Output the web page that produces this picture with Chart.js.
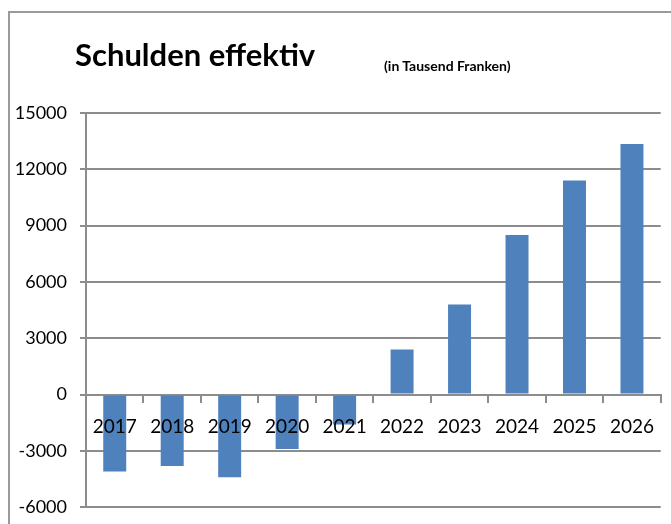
<!DOCTYPE html>
<html>
<head>
<meta charset="utf-8">
<script src="https://cdn.jsdelivr.net/npm/chart.js@4.4.0/dist/chart.umd.min.js"></script>
<style>
  html, body { margin: 0; padding: 0; background: #fff; overflow: hidden; }
  #wrap { position: relative; width: 671px; height: 524px; }
  .hline { position: absolute; left: 8px; top: 11px; width: 663px; height: 2px; background: #9a9a9a; }
  .vline { position: absolute; left: 8px; top: 11px; width: 2px; height: 513px; background: #9a9a9a; }
  #title { position: absolute; left: 75px; top: 35px; margin: 0;
           font: bold 31px Lato, sans-serif; color: #000; }
  #sub { position: absolute; left: 384px; top: 57px;
         font: bold 14px Lato, sans-serif; color: #000; }
  canvas { position: absolute; left: 0; top: 0; }
</style>
</head>
<body>
<div id="wrap">
  <div class="hline"></div>
  <div class="vline"></div>
  <canvas id="myChart" width="668" height="531"></canvas>
  <div id="title">Schulden effektiv</div>
  <div id="sub">(in Tausend Franken)</div>
</div>
<script>
// Jahre und Schulden (in Tausend Franken)
const years = ['2017', '2018', '2019', '2020', '2021', '2022', '2023', '2024', '2025', '2026'];
const schulden = [-4100, -3800, -4400, -2900, -1600, 2400, 4800, 8500, 11400, 13350];
const yMin = -6000;
const yMax = 15000;
const yStep = 3000;

const fontFam = 'Lato, sans-serif';
const gridCol = '#8c8c8c';

var ctx = document.getElementById('myChart').getContext('2d');
var chart = new Chart(ctx, {
  type: 'bar',
  data: {
    labels: years,
    datasets: [{
      label: 'Schulden effektiv',
      data: schulden,
      backgroundColor: '#4f81bd',
      borderWidth: 0,
      categoryPercentage: 1.0,
      barPercentage: 0.4
    }]
  },
  options: {
    responsive: false,
    animation: false,
    layout: { padding: { top: 113, right: 0, bottom: 0, left: 0 } },
    plugins: {
      legend: { display: false },
      tooltip: { enabled: false }
    },
    scales: {
      x: {
        position: { y: 0 },
        grid: { drawOnChartArea: false, drawTicks: true, tickLength: 7, color: gridCol, lineWidth: 2 },
        border: { display: true, color: gridCol, width: 2 },
        ticks: { z: 1, color: '#000', padding: 14, maxRotation: 0, font: { family: fontFam, size: 19 } }
      },
      y: {
        min: yMin,
        max: yMax,
        afterFit: function(scale) { scale.width = 86; },
        grid: { color: gridCol, lineWidth: 2, tickLength: 6 },
        border: { display: true, color: gridCol, width: 2 },
        ticks: {
          stepSize: yStep, color: '#000', padding: 13, font: { family: fontFam, size: 18 },
          callback: function(v) { return String(v); }
        }
      }
    }
  }
});
</script>
</body>
</html>
